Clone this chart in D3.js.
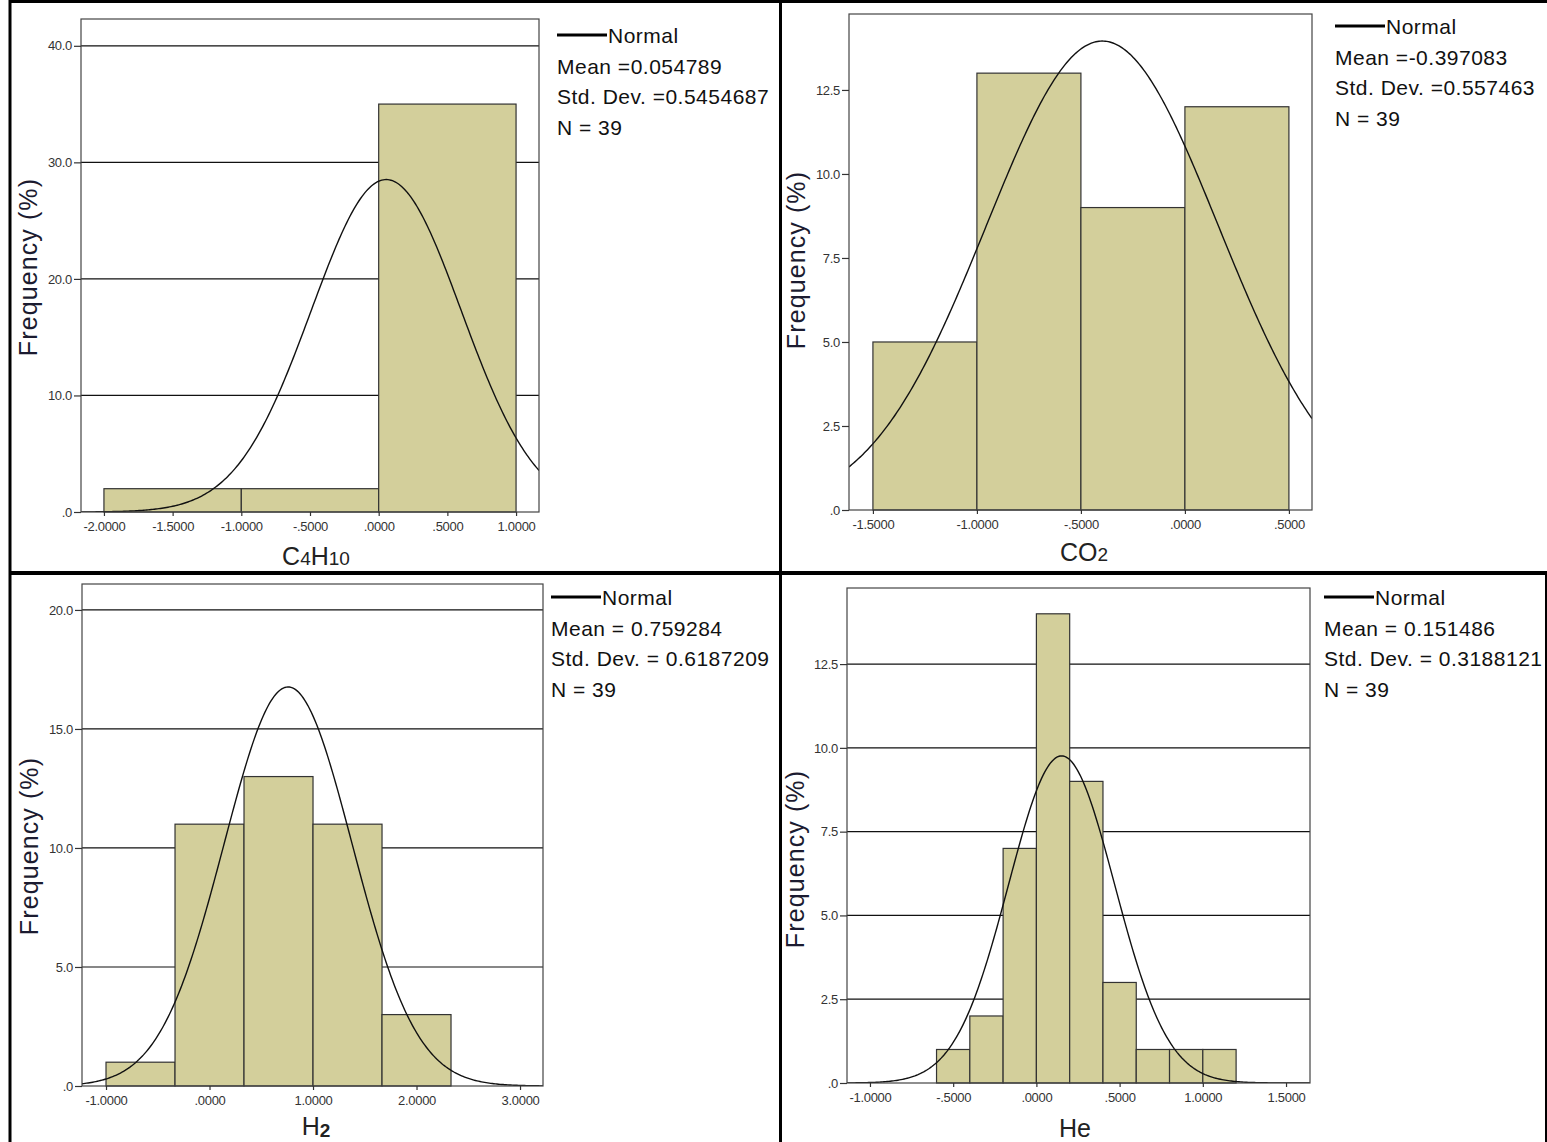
<!DOCTYPE html>
<html>
<head>
<meta charset="utf-8">
<script src="https://d3js.org/d3.v7.min.js"></script>
<style>
  body { margin: 0; background: #fff; }
  svg { display: block; font-family: "Liberation Sans", Arial, sans-serif; }
</style>
</head>
<body>
<svg id="chart"></svg>
<script>
const width = 1547;
const height = 1142;

// C4H10 histogram
const c4h10Edges = [-2, -1, 0, 1];
const c4h10Counts = [2, 2, 35];
const c4h10XTicks = [-2, -1.5, -1, -0.5, 0, 0.5, 1];
const c4h10XLabels = ["-2.0000", "-1.5000", "-1.0000", "-.5000", ".0000", ".5000", "1.0000"];
const c4h10YTicks = [0, 10, 20, 30, 40];
const c4h10YLabels = [".0", "10.0", "20.0", "30.0", "40.0"];
const c4h10Stats = { mean: 0.054789, sd: 0.5454687, n: 39 };
const c4h10Legend = ["Mean =0.054789", "Std. Dev. =0.5454687", "N = 39"];

// CO2 histogram
const co2Edges = [-1.5, -1, -0.5, 0, 0.5];
const co2Counts = [5, 13, 9, 12];
const co2XTicks = [-1.5, -1, -0.5, 0, 0.5];
const co2XLabels = ["-1.5000", "-1.0000", "-.5000", ".0000", ".5000"];
const co2YTicks = [0, 2.5, 5, 7.5, 10, 12.5];
const co2YLabels = [".0", "2.5", "5.0", "7.5", "10.0", "12.5"];
const co2Stats = { mean: -0.397083, sd: 0.557463, n: 39 };
const co2Legend = ["Mean =-0.397083", "Std. Dev. =0.557463", "N = 39"];

// H2 histogram
const h2Edges = [-1, -0.3333, 0.3333, 1, 1.6667, 2.3333];
const h2Counts = [1, 11, 13, 11, 3];
const h2XTicks = [-1, 0, 1, 2, 3];
const h2XLabels = ["-1.0000", ".0000", "1.0000", "2.0000", "3.0000"];
const h2YTicks = [0, 5, 10, 15, 20];
const h2YLabels = [".0", "5.0", "10.0", "15.0", "20.0"];
const h2Stats = { mean: 0.759284, sd: 0.6187209, n: 39 };
const h2Legend = ["Mean = 0.759284", "Std. Dev. = 0.6187209", "N = 39"];

// He histogram
const heEdges = [-0.6, -0.4, -0.2, 0, 0.2, 0.4, 0.6, 0.8, 1.0, 1.2];
const heCounts = [1, 2, 7, 14, 9, 3, 1, 1, 1];
const heXTicks = [-1, -0.5, 0, 0.5, 1, 1.5];
const heXLabels = ["-1.0000", "-.5000", ".0000", ".5000", "1.0000", "1.5000"];
const heYTicks = [0, 2.5, 5, 7.5, 10, 12.5];
const heYLabels = [".0", "2.5", "5.0", "7.5", "10.0", "12.5"];
const heStats = { mean: 0.151486, sd: 0.3188121, n: 39 };
const heLegend = ["Mean = 0.151486", "Std. Dev. = 0.3188121", "N = 39"];

const barFill = "#d3cf9b";
const ink = "#222";

// panel layout (plot frame in page pixels)
const panels = [
  { edges: c4h10Edges, counts: c4h10Counts, xTicks: c4h10XTicks, xLabels: c4h10XLabels,
    yTicks: c4h10YTicks, yLabels: c4h10YLabels, stats: c4h10Stats, legend: c4h10Legend,
    left: 81, right: 539, top: 19, bottom: 512, xDomain: [-2.167, 1.167], yMax: 42.3, grid: true,
    title: [["C", 0], ["4", 1], ["H", 0], ["10", 1]], titleX: 316, titleY: 565,
    freqX: 37, freqY: 267, legX: 557, legY: 43 },
  { edges: co2Edges, counts: co2Counts, xTicks: co2XTicks, xLabels: co2XLabels,
    yTicks: co2YTicks, yLabels: co2YLabels, stats: co2Stats, legend: co2Legend,
    left: 849, right: 1312, top: 14, bottom: 510, xDomain: [-1.615, 0.611], yMax: 14.76, grid: false,
    title: [["CO", 0], ["2", 1]], titleX: 1084, titleY: 561,
    freqX: 805, freqY: 260, legX: 1335, legY: 34 },
  { edges: h2Edges, counts: h2Counts, xTicks: h2XTicks, xLabels: h2XLabels,
    yTicks: h2YTicks, yLabels: h2YLabels, stats: h2Stats, legend: h2Legend,
    left: 82, right: 543, top: 584, bottom: 1086, xDomain: [-1.232, 3.222], yMax: 21.09, grid: true,
    title: [["H", 0], ["2", 2]], titleX: 316, titleY: 1135,
    freqX: 38, freqY: 846, legX: 551, legY: 605 },
  { edges: heEdges, counts: heCounts, xTicks: heXTicks, xLabels: heXLabels,
    yTicks: heYTicks, yLabels: heYLabels, stats: heStats, legend: heLegend,
    left: 847, right: 1310, top: 588, bottom: 1083, xDomain: [-1.138, 1.644], yMax: 14.77, grid: true,
    title: [["He", 0]], titleX: 1075, titleY: 1137,
    freqX: 804, freqY: 859, legX: 1324, legY: 605 }
];

const svg = d3.select("#chart")
  .attr("width", width)
  .attr("height", height);

svg.append("rect").attr("width", width).attr("height", height).attr("fill", "#fff");

panels.forEach((p, i) => {
  const x = d3.scaleLinear().domain(p.xDomain).range([p.left, p.right]);
  const y = d3.scaleLinear().domain([0, p.yMax]).range([p.bottom, p.top]);
  const g = svg.append("g");

  // gridlines
  if (p.grid) {
    g.selectAll(".grid")
      .data(p.yTicks.filter(d => d > 0))
      .enter()
      .append("line")
      .attr("x1", p.left).attr("x2", p.right)
      .attr("y1", d => y(d)).attr("y2", d => y(d))
      .attr("stroke", "#111")
      .attr("stroke-width", 1.2);
  }

  // bars
  const bins = p.counts.map((c, j) => ({ x0: p.edges[j], x1: p.edges[j + 1], c }));
  g.selectAll(".bar")
    .data(bins)
    .enter()
    .append("rect")
    .attr("x", d => x(d.x0))
    .attr("y", d => y(d.c))
    .attr("width", d => x(d.x1) - x(d.x0))
    .attr("height", d => y(0) - y(d.c))
    .attr("fill", barFill)
    .attr("stroke", "#333")
    .attr("stroke-width", 1.2);

  // normal curve scaled to counts
  const bw = p.edges[1] - p.edges[0];
  const s = p.stats;
  const pdf = v => s.n * bw * Math.exp(-0.5 * ((v - s.mean) / s.sd) ** 2) / (s.sd * Math.sqrt(2 * Math.PI));
  const xs = d3.range(301).map(k => p.xDomain[0] + (p.xDomain[1] - p.xDomain[0]) * k / 300);
  svg.append("clipPath").attr("id", "clip" + i)
    .append("rect")
    .attr("x", p.left).attr("y", p.top)
    .attr("width", p.right - p.left).attr("height", p.bottom - p.top);
  g.append("path")
    .datum(xs)
    .attr("clip-path", `url(#clip${i})`)
    .attr("d", d3.line().x(v => x(v)).y(v => y(pdf(v))))
    .attr("fill", "none")
    .attr("stroke", "#111")
    .attr("stroke-width", 1.4);

  // frame
  g.append("rect")
    .attr("x", p.left).attr("y", p.top)
    .attr("width", p.right - p.left).attr("height", p.bottom - p.top)
    .attr("fill", "none")
    .attr("stroke", "#444")
    .attr("stroke-width", 1.2);

  // axes
  const xAxis = d3.axisBottom(x)
    .tickValues(p.xTicks)
    .tickFormat((d, j) => p.xLabels[j])
    .tickSize(4)
    .tickPadding(6);
  const xg = g.append("g").attr("transform", `translate(0,${p.bottom})`).call(xAxis);

  const yAxis = d3.axisLeft(y)
    .tickValues(p.yTicks)
    .tickFormat((d, j) => p.yLabels[j])
    .tickSize(7)
    .tickPadding(2);
  const yg = g.append("g").attr("transform", `translate(${p.left},0)`).call(yAxis);

  [xg, yg].forEach(a => {
    a.select(".domain").remove();
    a.selectAll(".tick line").attr("stroke", "#333").attr("stroke-width", 1.2);
    a.selectAll(".tick text")
      .attr("fill", "#333")
      .style("font-size", "13px")
      .style("letter-spacing", "-0.3px")
      .style("font-family", "'Liberation Sans', Arial, sans-serif");
  });

  // y title
  g.append("text")
    .attr("transform", `translate(${p.freqX},${p.freqY}) rotate(-90)`)
    .attr("text-anchor", "middle")
    .attr("fill", "#1b1b30")
    .style("font-size", "25px")
    .style("letter-spacing", "1.1px")
    .text("Frequency (%)");

  // x title with subscripts
  const t = g.append("text")
    .attr("x", p.titleX)
    .attr("y", p.titleY)
    .attr("text-anchor", "middle")
    .attr("fill", ink)
    .style("font-size", "25px");
  p.title.forEach(([txt, sub]) => {
    const ts = t.append("tspan").text(txt);
    if (sub === 1) ts.style("font-size", "19px");
    if (sub === 2) ts.style("font-size", "19px").style("font-weight", "bold").attr("dy", 2);
  });

  // legend
  g.append("line")
    .attr("x1", p.legX).attr("x2", p.legX + 50)
    .attr("y1", p.legY - 8).attr("y2", p.legY - 8)
    .attr("stroke", "#000")
    .attr("stroke-width", 3);
  g.append("text")
    .attr("x", p.legX + 51).attr("y", p.legY)
    .attr("fill", "#111")
    .style("font-size", "21px")
    .style("letter-spacing", "0.5px")
    .text("Normal");
  g.selectAll(".leg")
    .data(p.legend)
    .enter()
    .append("text")
    .attr("x", p.legX)
    .attr("y", (d, j) => p.legY + 30.7 * (j + 1))
    .attr("fill", "#111")
    .style("font-size", "21px")
    .style("letter-spacing", "0.5px")
    .text(d => d);
});

// panel borders
const borders = [
  [9, 1.5, width, 1.5, 3],
  [10, 0, 10, height, 3],
  [780.5, 0, 780.5, height, 3],
  [9, 573, width, 573, 4],
  [1546, 572, 1546, height, 2]
];
svg.selectAll(".border")
  .data(borders)
  .enter()
  .append("line")
  .attr("x1", d => d[0]).attr("y1", d => d[1])
  .attr("x2", d => d[2]).attr("y2", d => d[3])
  .attr("stroke", "#000")
  .attr("stroke-width", d => d[4]);
</script>
</body>
</html>
